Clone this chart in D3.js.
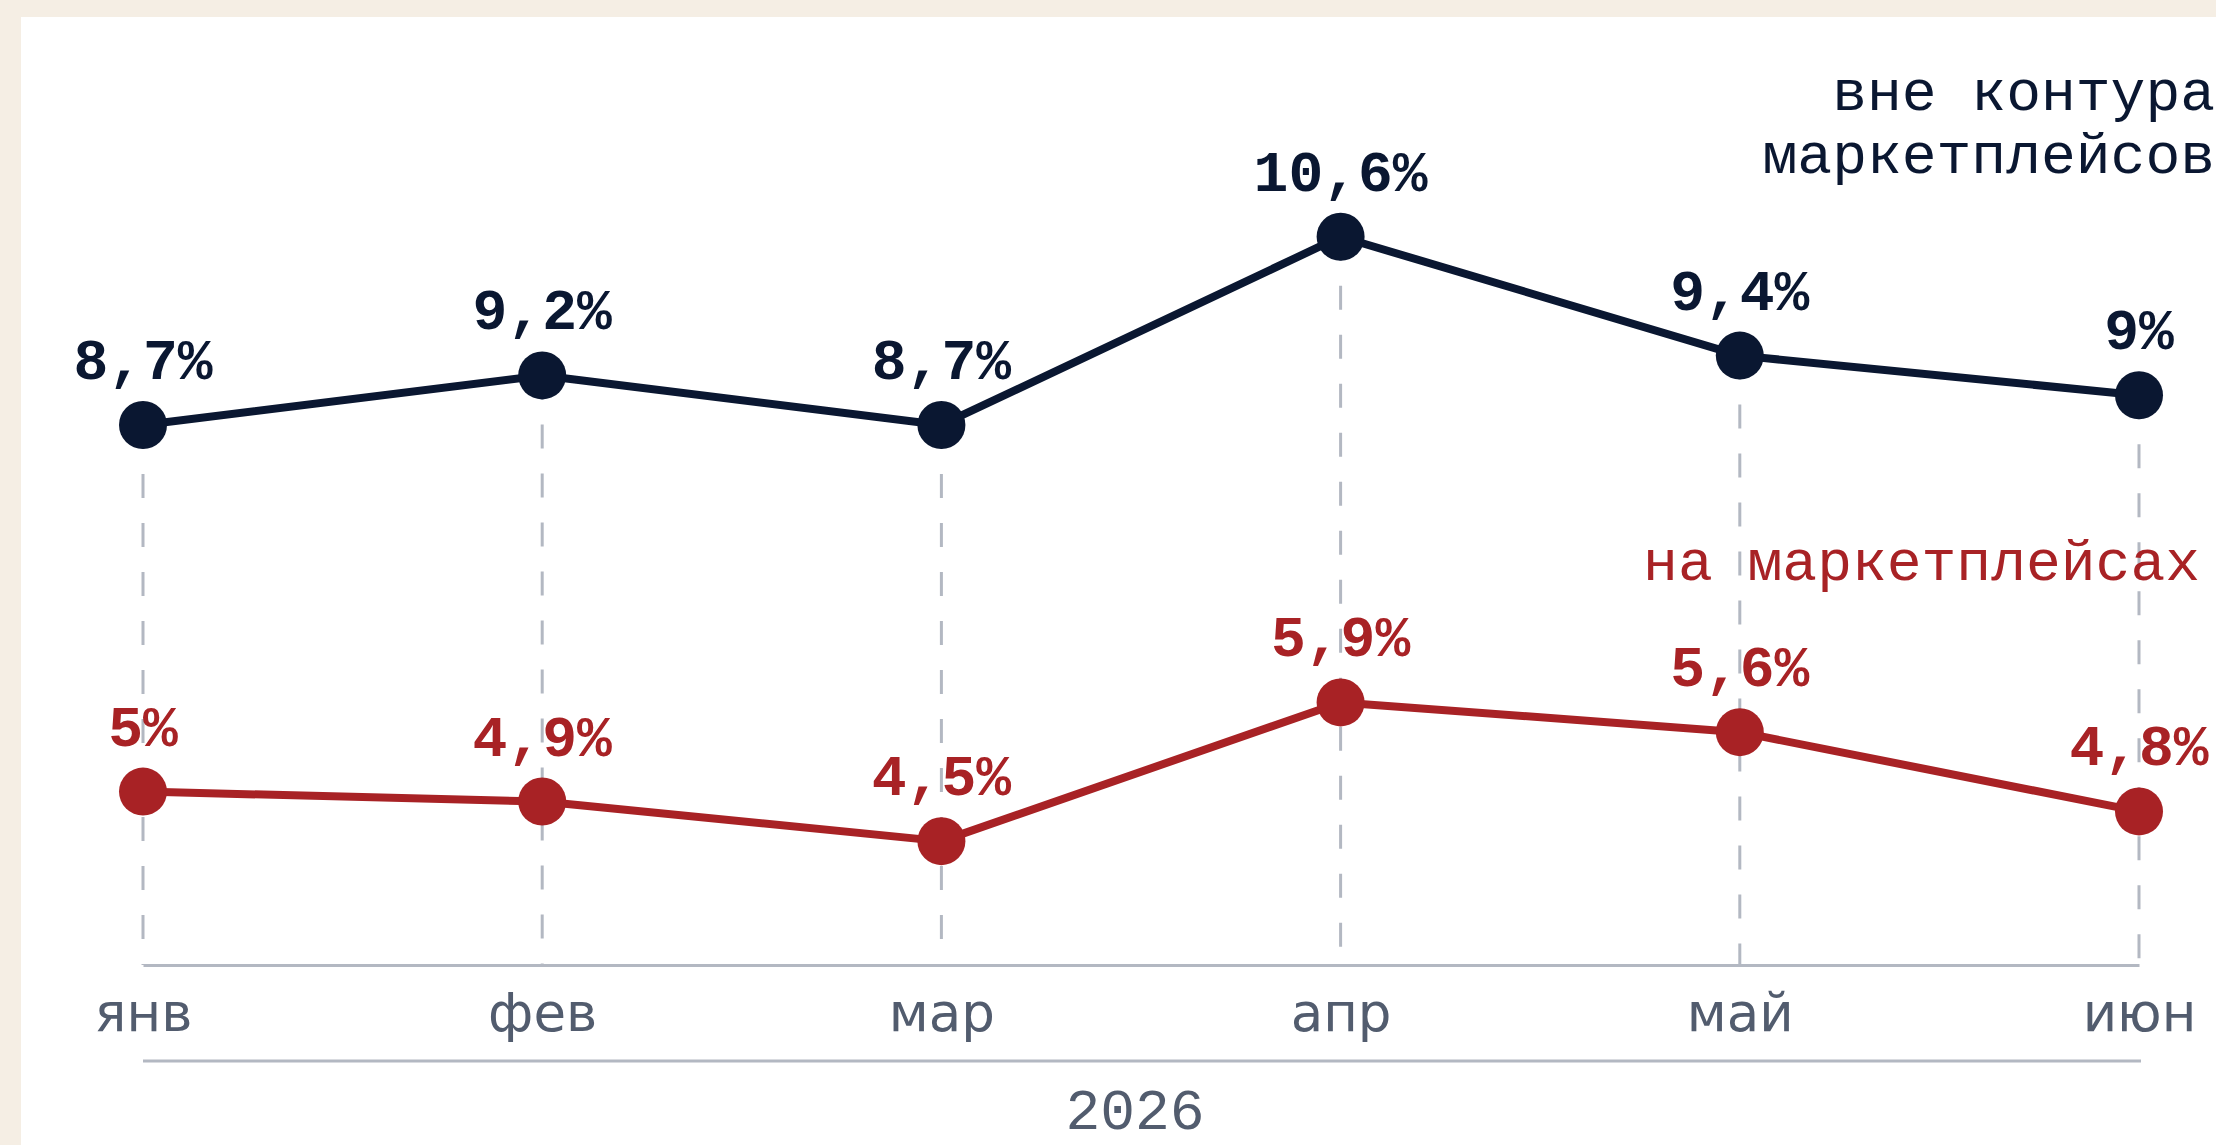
<!DOCTYPE html>
<html>
<head>
<meta charset="utf-8">
<script src="https://cdn.jsdelivr.net/npm/d3@7"></script>
<style>
	html, body { margin: 0; padding: 0; background: #f5eee4; }
	svg { display: block; }
</style>
</head>
<body>
<div id="containerLineChart"></div>
<script>

// months on the x axis
var months = ["янв", "фев", "мар", "апр", "май", "июн"];

// share outside the marketplaces, percent
var outsideValues = [8.7, 9.2, 8.7, 10.6, 9.4, 9.0];
var outsideLabels = ["8,7%", "9,2%", "8,7%", "10,6%", "9,4%", "9%"];

// share on the marketplaces, percent
var insideValues = [5.0, 4.9, 4.5, 5.9, 5.6, 4.8];
var insideLabels = ["5%", "4,9%", "4,5%", "5,9%", "5,6%", "4,8%"];

var yearLabel = "2026";

// function to draw the line chart
function drawLineChart() {

	var width = 2216;
	var height = 1145;
	var dark = "#0a1731";
	var red = "#a82225";
	var grey = "#b3b8c2";
	var textGrey = "#525c6e";
	var mono = "'Liberation Mono', 'DejaVu Sans Mono', monospace";

	var scaleX = d3.scalePoint()
		.domain(months)
		.range([143, 2139]);

	var scaleY = d3.scaleLinear()
		.domain([3.25, 12])
		.range([965, 98]);

	var axisY = scaleY(3.25);

	var svg = d3.select("#containerLineChart")
		.append("svg")
		.attr("width", width)
		.attr("height", height);

	// beige backdrop and white card
	svg.append("rect")
		.attr("width", width)
		.attr("height", height)
		.attr("fill", "#f5eee4");
	svg.append("rect")
		.attr("x", 21)
		.attr("y", 17)
		.attr("width", width - 21)
		.attr("height", height - 17)
		.attr("fill", "#ffffff");

	// dashed guides from the upper dots down to the axis
	svg.selectAll(".guide")
		.data(months)
		.enter()
		.append("line")
		.attr("class", "guide")
		.attr("x1", function(d) { return scaleX(d); })
		.attr("x2", function(d) { return scaleX(d); })
		.attr("y1", function(d, i) { return scaleY(outsideValues[i]); })
		.attr("y2", axisY)
		.attr("stroke", grey)
		.attr("stroke-width", 3)
		.attr("stroke-dasharray", "24,25");

	// x axis
	var x_axis = d3.axisBottom(scaleX)
		.tickSize(0)
		.tickPadding(0);

	var gAxis = svg.append("g")
		.attr("transform", "translate(0," + axisY + ")")
		.call(x_axis);
	gAxis.select(".domain")
		.attr("stroke", grey)
		.attr("stroke-width", 3);
	gAxis.selectAll("text")
		.attr("fill", textGrey)
		.attr("y", 66)
		.attr("dy", 0)
		.style("font-family", "'DejaVu Sans', sans-serif")
		.style("font-size", "53px");

	// year line and label
	svg.append("line")
		.attr("x1", scaleX.range()[0])
		.attr("x2", scaleX.range()[1] + 2)
		.attr("y1", 1061)
		.attr("y2", 1061)
		.attr("stroke", grey)
		.attr("stroke-width", 3);
	svg.append("text")
		.attr("x", (scaleX.range()[0] + scaleX.range()[1]) / 2 - 6)
		.attr("y", 1129)
		.attr("text-anchor", "middle")
		.attr("fill", textGrey)
		.style("font-family", mono)
		.style("font-size", "58px")
		.text(yearLabel);

	var series = [
		{values: outsideValues, labels: outsideLabels, color: dark},
		{values: insideValues, labels: insideLabels, color: red}
	];

	var line = d3.line()
		.x(function(d, i) { return scaleX(months[i]); })
		.y(function(d) { return scaleY(d); });

	series.forEach(function(s) {

		svg.append("path")
			.datum(s.values)
			.attr("d", line)
			.attr("fill", "none")
			.attr("stroke", s.color)
			.attr("stroke-width", 8)
			.attr("stroke-linejoin", "round");

		svg.selectAll(null)
			.data(s.values)
			.enter()
			.append("circle")
			.attr("cx", function(d, i) { return scaleX(months[i]); })
			.attr("cy", function(d) { return scaleY(d); })
			.attr("r", 24)
			.attr("fill", s.color);

		svg.selectAll(null)
			.data(s.values)
			.enter()
			.append("text")
			.attr("x", function(d, i) { return scaleX(months[i]); })
			.attr("y", function(d) { return scaleY(d) - 46; })
			.attr("text-anchor", "middle")
			.attr("fill", s.color)
			.style("font-family", mono)
			.style("font-weight", "bold")
			.style("font-size", "58px")
			.text(function(d, i) { return s.labels[i]; });
	});

	// series names
	var nameDark = svg.append("text")
		.attr("text-anchor", "end")
		.attr("fill", dark)
		.style("font-family", mono)
		.style("font-size", "58px");
	nameDark.append("tspan")
		.attr("x", 2215)
		.attr("y", 110)
		.text("вне контура");
	nameDark.append("tspan")
		.attr("x", 2215)
		.attr("y", 173)
		.text("маркетплейсов");

	svg.append("text")
		.attr("x", 2200)
		.attr("y", 580)
		.attr("text-anchor", "end")
		.attr("fill", red)
		.style("font-family", mono)
		.style("font-size", "58px")
		.text("на маркетплейсах");
};

drawLineChart();
</script>
</body>
</html>
